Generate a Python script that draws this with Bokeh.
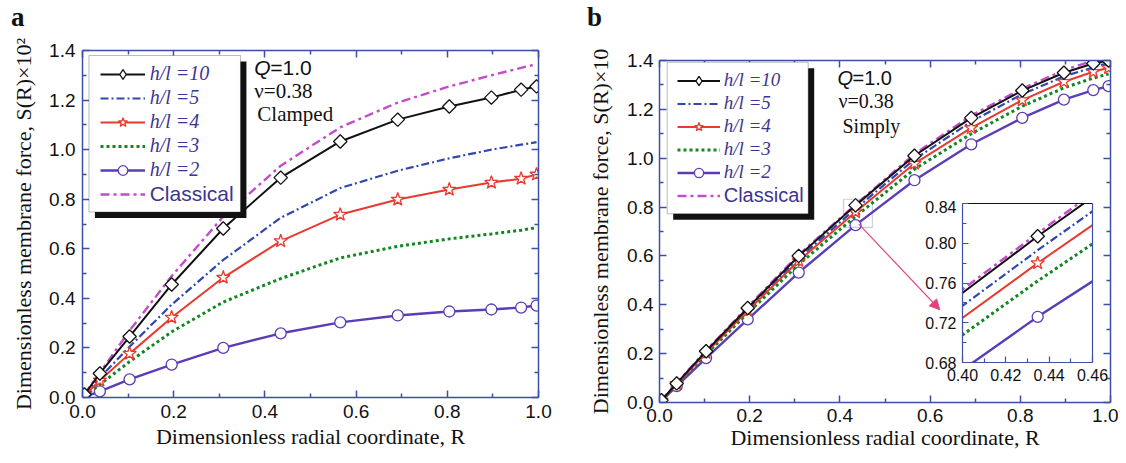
import numpy as np
from bokeh.plotting import figure
from bokeh.models import (Range1d, LinearAxis, FixedTicker, PrintfTickFormatter, Legend,
                          LegendItem, Label, BoxAnnotation, Arrow, NormalHead, Div,
                          ColumnDataSource, CDSView, IndexFilter)
from bokeh.embed import file_html
from bokeh.resources import INLINE

# ---------------- data ----------------
R = [0.0043, 0.0381, 0.1033, 0.1956, 0.3087, 0.4347, 0.5653, 0.6913, 0.8044, 0.8967, 0.9619, 0.9957]

# panel a: clamped, S(R) x 10^2
a_h10 = [0.012, 0.097, 0.246, 0.456, 0.682, 0.887, 1.033, 1.121, 1.174, 1.210, 1.242, 1.255]
a_h5 = [0.010, 0.080, 0.205, 0.375, 0.555, 0.725, 0.845, 0.915, 0.965, 1.000, 1.020, 1.030]
a_h4 = [0.008, 0.069, 0.177, 0.323, 0.484, 0.631, 0.738, 0.799, 0.839, 0.867, 0.883, 0.900]
a_h3 = [0.006, 0.052, 0.145, 0.265, 0.385, 0.480, 0.563, 0.610, 0.640, 0.660, 0.675, 0.685]
a_h2 = [0.003, 0.025, 0.073, 0.133, 0.200, 0.259, 0.303, 0.331, 0.347, 0.355, 0.363, 0.371]
a_cl = [0.013, 0.100, 0.270, 0.490, 0.730, 0.935, 1.090, 1.190, 1.255, 1.300, 1.330, 1.345]

# panel b: simply supported, S(R) x 10
b_h10 = [0.009, 0.078, 0.210, 0.387, 0.600, 0.807, 1.010, 1.165, 1.277, 1.350, 1.388, 1.400]
b_h5 = [0.009, 0.077, 0.206, 0.381, 0.590, 0.793, 0.995, 1.150, 1.262, 1.335, 1.372, 1.390]
b_h4 = [0.009, 0.076, 0.203, 0.376, 0.580, 0.780, 0.978, 1.124, 1.238, 1.313, 1.354, 1.370]
b_h3 = [0.008, 0.073, 0.197, 0.366, 0.565, 0.762, 0.955, 1.100, 1.213, 1.288, 1.328, 1.345]
b_h2 = [0.007, 0.067, 0.182, 0.340, 0.532, 0.726, 0.910, 1.057, 1.165, 1.240, 1.279, 1.295]
b_cl = [0.009, 0.080, 0.213, 0.392, 0.605, 0.810, 1.017, 1.175, 1.285, 1.360, 1.400, 1.415]

labels = ["h/l =10", "h/l =5", "h/l =4", "h/l =3", "h/l =2", "Classical"]
x_ticks = [0.0, 0.2, 0.4, 0.6, 0.8, 1.0]
x_minor = [0.1, 0.3, 0.5, 0.7, 0.9]
y_ticks = [0.0, 0.2, 0.4, 0.6, 0.8, 1.0, 1.2, 1.4]
y_minor = [0.1, 0.3, 0.5, 0.7, 0.9, 1.1, 1.3]
in_x_ticks = [0.40, 0.42, 0.44, 0.46]
in_x_minor = [0.41, 0.43, 0.45]
in_y_ticks = [0.68, 0.72, 0.76, 0.80, 0.84]
in_y_minor = [0.70, 0.74, 0.78, 0.82]

# ---------------- styles ----------------
AXC = "#3d50a8"
LEGTXT = "#3c3592"
PINK = "#e8407f"
STY = [
    dict(color="#111111", width=2.0, dash="solid", marker="square", msize=9.5, angle=np.pi / 4,
         leg_marker="diamond", leg_size=12),
    dict(color="#2f48b0", width=2.2, dash="8 3 2 3", marker=None),
    dict(color="#e83a2e", width=2.0, dash="solid", marker="star", msize=14, angle=0.0),
    dict(color="#12871f", width=3.0, dash="3 3", marker=None),
    dict(color="#5b3db5", width=2.4, dash="solid", marker="circle", msize=11, angle=0.0),
    dict(color="#c34cc9", width=2.4, dash="9 4 3 4", marker=None),
]
DRAW_ORDER = [5, 4, 3, 1, 2, 0]
SANS = "Liberation Sans"
SERIF = "Liberation Serif"


def draw_series(p, ys_list):
    rends = {}
    for i in DRAW_ORDER:
        s = STY[i]
        src = ColumnDataSource(data=dict(x=R, y=ys_list[i]))
        rs = [p.line("x", "y", source=src, line_color=s["color"], line_width=s["width"],
                     line_dash=s["dash"])]
        if s["marker"]:
            proxy = None
            if "leg_marker" in s:
                # legend proxy (legend glyphs ignore the marker angle); its single point is
                # hidden under the rotated-square marker drawn on top of it
                proxy = p.scatter("x", "y", source=src, view=CDSView(filter=IndexFilter(indices=[0])),
                                  marker=s["leg_marker"], size=s["leg_size"],
                                  fill_color="white", line_color=s["color"], line_width=1.3)
            sc = p.scatter("x", "y", source=src, marker=s["marker"], size=s["msize"], angle=s["angle"],
                           fill_color="white", line_color=s["color"], line_width=1.3)
            rs.append(proxy if proxy is not None else sc)
        rends[i] = rs
    return rends


def add_axes(p, xt, xm, yt, ym, fmt, tick_font, xlabel, ylabel, xstand, ystand, lab_std, top_color=AXC,
             tick_in=7, minor_in=4, ax_width=1.5, side_ticks=True):
    for side in ["below", "left", "above", "right"]:
        if side in ("below", "above"):
            tk = FixedTicker(ticks=xt, minor_ticks=xm)
        else:
            tk = FixedTicker(ticks=yt, minor_ticks=ym)
        ax = LinearAxis(ticker=tk, formatter=PrintfTickFormatter(format=fmt))
        col = top_color if side == "above" else AXC
        ax.axis_line_color = col
        ax.axis_line_width = ax_width
        ax.major_tick_line_color = AXC
        ax.minor_tick_line_color = AXC
        ax.major_tick_line_width = ax_width
        ax.minor_tick_line_width = ax_width
        ax.major_tick_in = tick_in
        ax.major_tick_out = 0
        ax.minor_tick_in = minor_in
        ax.minor_tick_out = 0
        if side in ("above", "right"):
            ax.major_label_text_font_size = "1px"
            ax.major_label_text_color = None
            ax.major_label_standoff = 0
            if not side_ticks:
                ax.major_tick_line_color = None
                ax.minor_tick_line_color = None
        else:
            ax.major_label_text_font = SANS
            ax.major_label_text_font_size = tick_font
            ax.major_label_text_color = "#111111"
            ax.major_label_standoff = lab_std
            lab = xlabel if side == "below" else ylabel
            if lab:
                ax.axis_label = lab
                ax.axis_label_text_font = SERIF
                ax.axis_label_text_font_style = "normal"
                ax.axis_label_text_font_size = "22px"
                ax.axis_label_text_color = "#111111"
                ax.axis_label_standoff = xstand if side == "below" else ystand
        p.add_layout(ax, side)


class Geo:
    def __init__(self, fl, ft, fw, fh, xr, yr):
        self.fl, self.ft, self.fw, self.fh, self.xr, self.yr = fl, ft, fw, fh, xr, yr

    def x(self, px):
        return self.xr[0] + (px - self.fl) / self.fw * (self.xr[1] - self.xr[0])

    def y(self, py):
        return self.yr[1] - (py - self.ft) / self.fh * (self.yr[1] - self.yr[0])


def make_panel(ys_list, geo, ml, mr, mt, mb, ylabel, ystand, xstand, lab_std, legend_geo, font_sz,
               notes):
    fw, fh = geo.fw, geo.fh
    p = figure(width=ml + fw + mr, height=mt + fh + mb, x_range=Range1d(0, 1), y_range=Range1d(0, 1.4),
               output_backend="svg", toolbar_location=None, x_axis_location=None, y_axis_location=None,
               min_border_left=ml, min_border_right=mr, min_border_top=mt, min_border_bottom=mb,
               background_fill_color="white", border_fill_color="white", outline_line_color=None,
               styles={"position": "absolute", "left": "%dpx" % (geo.fl - ml),
                       "top": "%dpx" % (geo.ft - mt)})
    p.xgrid.visible = False
    p.ygrid.visible = False
    rends = draw_series(p, ys_list)
    add_axes(p, x_ticks, x_minor, y_ticks, y_minor, "%.1f", "19px",
             "Dimensionless radial coordinate, R", ylabel, xstand, ystand, lab_std)

    # legend frame with shadow
    (bl, bt, br, bb), sh, (gx, item_top, pitch, gw, gstd) = legend_geo
    p.add_layout(BoxAnnotation(left=geo.x(bl + sh), right=geo.x(br + sh), top=geo.y(bt + sh),
                               bottom=geo.y(bb + sh), fill_color="#111111", fill_alpha=1,
                               line_color=None))
    p.add_layout(BoxAnnotation(left=geo.x(bl), right=geo.x(br), top=geo.y(bt), bottom=geo.y(bb),
                               fill_color="white", fill_alpha=1, line_color="#222222", line_width=1))
    frame_bottom = geo.ft + geo.fh
    common = dict(orientation="vertical", glyph_width=gw, glyph_height=pitch, label_height=pitch,
                  label_standoff=gstd, spacing=0, padding=0, margin=0, border_line_color=None,
                  background_fill_alpha=0, label_text_color=LEGTXT)
    leg1 = Legend(items=[LegendItem(label=labels[i], renderers=rends[i]) for i in range(5)],
                  location=(gx - geo.fl, frame_bottom - (item_top + 5 * pitch)),
                  label_text_font=SERIF, label_text_font_style="italic",
                  label_text_font_size=font_sz[0], **common)
    leg2 = Legend(items=[LegendItem(label=labels[5], renderers=rends[5])],
                  location=(gx - geo.fl, frame_bottom - (item_top + 6 * pitch)),
                  label_text_font=SANS, label_text_font_style="normal",
                  label_text_font_size=font_sz[1], **common)
    p.add_layout(leg1)
    p.add_layout(leg2)

    for (txt, px, py, fnt, style, size) in notes:
        p.add_layout(Label(x=geo.x(px), y=geo.y(py), text=txt, text_font=fnt, text_font_style=style,
                           text_font_size=size, text_color="#111111", text_baseline="middle",
                           text_align="left"))
    return p, rends


def letter_div(txt, left, top):
    html = ('<span style="font-family: \'Liberation Serif\'; font-weight: bold; font-size: 27px; '
            'line-height: 27px; color: #111111; margin: 0; padding: 0;">%s</span>' % txt)
    return Div(text=html, width=30, height=30, margin=0,
               styles={"position": "absolute", "left": "%dpx" % left, "top": "%dpx" % top})


# ---------------- panel a ----------------
geo_a = Geo(79, 50, 459, 347, (0, 1), (0, 1.4))
notes_a = [("Q", 252, 67, SANS, "italic", "21px"), ("=1.0", 268, 67, SANS, "normal", "21px"),
           ("\u03bd=0.38", 252, 90, SERIF, "normal", "21px"), ("Clamped", 255, 113, SERIF, "normal", "21px")]
p1, _ = make_panel([a_h10, a_h5, a_h4, a_h3, a_h2, a_cl], geo_a, 71, 42, 42, 58,
                   "Dimensionless membrane force, S(R)\u00d710\u00b2", 10, 3, 7,
                   ((85.5, 55, 238, 211.5), 6, (96.7, 61.5, 24, 45, 5)), ("20px", "21px"),
                   notes_a)

# ---------------- panel b ----------------
geo_b = Geo(659, 60, 451, 342, (0, 1), (0, 1.4))
notes_b = [("Q", 837, 77, SANS, "italic", "20px"), ("=1.0", 852, 77, SANS, "normal", "20px"),
           ("\u03bd=0.38", 838, 100, SERIF, "normal", "20px"), ("Simply", 842, 125, SERIF, "normal", "20px")]
p2, _ = make_panel([b_h10, b_h5, b_h4, b_h3, b_h2, b_cl], geo_b, 79, 8, 52, 53,
                   "Dimensionless membrane force, S(R)\u00d710", 11, 0, 6,
                   ((666.7, 61.7, 807.7, 213.3), 6, (676.7, 68.5, 23, 43, 4)), ("19px", "20px"),
                   notes_b)

# zoom box + arrow in panel b
p2.add_layout(BoxAnnotation(left=0.408, right=0.472, bottom=0.717, top=0.832, fill_alpha=0,
                            line_color="#4a5bb0", line_width=1.2))
p2.add_layout(Arrow(end=NormalHead(size=10, fill_color=PINK, line_color=PINK), x_start=0.442,
                    y_start=0.73, x_end=0.6215, y_end=0.38, line_color=PINK, line_width=1.2))

# ---------------- inset ----------------
ins = figure(width=45 + 130 + 20, height=3 + 159 + 30, x_range=Range1d(0.40, 0.46),
             y_range=Range1d(0.68, 0.84), output_backend="svg", toolbar_location=None,
             x_axis_location=None, y_axis_location=None, min_border_left=45, min_border_right=20,
             min_border_top=3, min_border_bottom=30, background_fill_color="white",
             border_fill_alpha=0, outline_line_color=None,
             styles={"position": "absolute", "left": "917px", "top": "200px"})
ins.xgrid.visible = False
ins.ygrid.visible = False
draw_series(ins, [b_h10, b_h5, b_h4, b_h3, b_h2, b_cl])
add_axes(ins, in_x_ticks, in_x_minor, in_y_ticks, in_y_minor, "%.2f", "16px", None, None, 0, 0, 6,
         top_color="#111111", tick_in=6, minor_in=4, ax_width=1.2, side_ticks=False)

div_a = letter_div("a", 11, 4)
div_b = letter_div("b", 587, 4)

open("out.html", "w").write(file_html([p1, p2, ins, div_a, div_b], INLINE))
